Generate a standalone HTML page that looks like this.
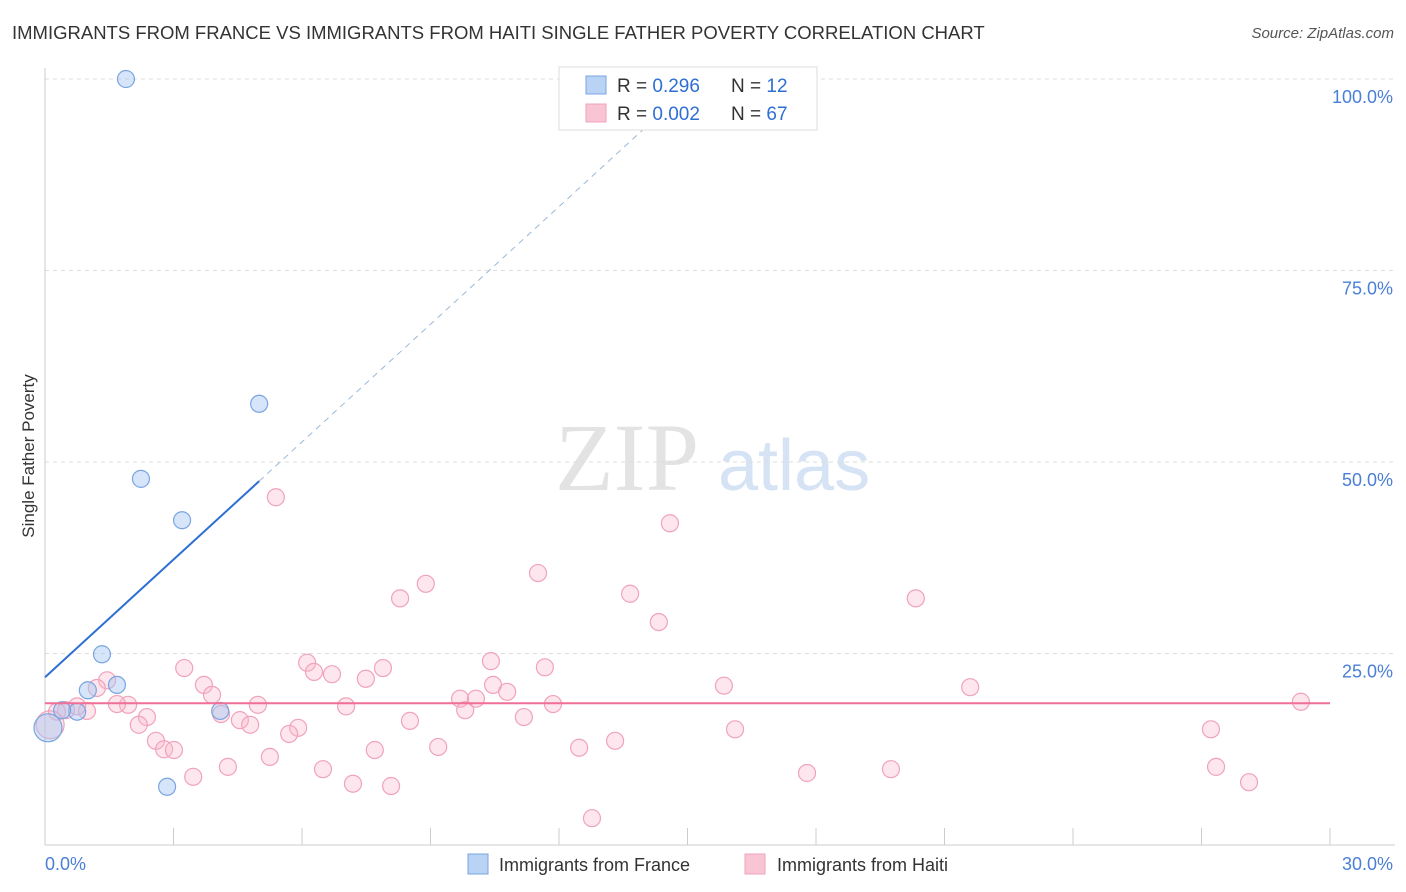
<!DOCTYPE html>
<html><head><meta charset="utf-8"><style>
body{margin:0;background:#fff;font-family:"Liberation Sans",sans-serif;}
#c{position:relative;width:1406px;height:892px;overflow:hidden;}
.t{position:absolute;white-space:nowrap;}
</style></head><body>
<div id="c">
<div class="t" style="left:12px;top:22px;font-size:18.5px;color:#333;">IMMIGRANTS FROM FRANCE VS IMMIGRANTS FROM HAITI SINGLE FATHER POVERTY CORRELATION CHART</div>
<div class="t" style="right:12px;top:25px;font-size:15px;color:#555;font-style:italic;">Source: ZipAtlas.com</div>
<svg id="s" width="1406" height="892" style="position:absolute;left:0;top:0"></svg>
</div>
<script>
const yTicks=[25,50,75,100];
const yTickLabels=["25.0%","50.0%","75.0%","100.0%"];
const xTickLabels=["0.0%","30.0%"];
const franceX=[1.89,5.0,2.24,3.2,1.33,1.68,1.0,0.75,0.4,4.09,2.85,0.07];
const franceY=[100,57.6,47.8,42.4,24.9,20.9,20.2,17.4,17.6,17.5,7.6,15.3];
const haitiX=[5.39,14.59,11.51,8.89,8.29,13.66,20.33,14.33,6.12,3.25,7.89,10.41,11.67,6.70,6.28,7.49,3.71,1.45,1.21,10.46,15.85,21.6,29.32,3.90,9.69,10.06,10.79,11.86,4.97,7.03,1.94,1.68,0.98,0.75,0.49,0.28,9.81,4.11,2.38,4.55,11.18,8.52,2.19,4.79,5.91,5.70,16.11,27.22,2.59,13.31,9.18,2.78,3.01,12.47,7.70,5.25,4.27,6.49,17.79,19.75,27.34,3.46,7.19,8.08,28.11,12.77,0.12];
const haitiY=[45.4,42.0,35.5,34.1,32.2,32.8,32.2,29.1,23.8,23.1,23.1,24.0,23.2,22.3,22.6,21.7,20.9,21.5,20.5,20.9,20.8,20.6,18.7,19.6,19.1,19.1,20.0,18.4,18.3,18.1,18.3,18.4,17.5,18.1,17.6,17.4,17.6,17.1,16.7,16.3,16.7,16.2,15.7,15.7,15.3,14.5,15.1,15.1,13.6,13.6,12.8,12.5,12.4,12.7,12.4,11.5,10.2,9.9,9.4,9.9,10.2,8.9,8.0,7.7,8.2,3.5,15.7];
const franceLine=[21.9,5.12]; // intercept, slope
const haitiLine=18.5;
const NS="http://www.w3.org/2000/svg",s=document.getElementById('s');
const X0=45,X1=1330,Y0=845,Y100=79;
const sx=v=>X0+(X1-X0)*v/30, sy=v=>Y0-(Y0-Y100)*v/100;
function mk(t,a,name){const e=document.createElementNS(NS,t);for(const k in a)e.setAttribute(k,a[k]);


s.appendChild(e);return e;}
let w=mk('text',{x:555,y:490,'font-size':96,'font-family':'Liberation Serif',fill:'#e3e3e3'},'watermark-zip');w.textContent='ZIP';
w=mk('text',{x:718,y:490,'font-size':72,'font-family':'Liberation Sans',fill:'#d6e3f5'},'watermark-atlas');w.textContent='atlas';
yTicks.forEach((v,i)=>{mk('line',{x1:X0,x2:1395,y1:sy(v),y2:sy(v),stroke:'#ddd','stroke-dasharray':'4,4'},'gridline');
const t=mk('text',{x:1393,y:sy(v)+24,'text-anchor':'end','font-size':18,fill:'#4a7fd6'},'y-tick-label');t.textContent=yTickLabels[i];});
mk('line',{x1:X0,x2:X0,y1:68,y2:Y0,stroke:'#ccc'},'y-axis');
mk('line',{x1:X0,x2:1395,y1:Y0,y2:Y0,stroke:'#ccc'},'x-axis');
for(let i=1;i<=10;i++)mk('line',{x1:sx(i*3),x2:sx(i*3),y1:828,y2:Y0,stroke:'#ccc'},'x-tick');
let t=mk('text',{x:45,y:870,'font-size':18,fill:'#4a7fd6'},'x-tick-label');t.textContent=xTickLabels[0];
t=mk('text',{x:1393,y:870,'text-anchor':'end','font-size':18,fill:'#4a7fd6'},'x-tick-label');t.textContent=xTickLabels[1];
t=mk('text',{x:34,y:456,'font-size':17,fill:'#333','text-anchor':'middle',transform:'rotate(-90 34 456)'},'y-axis-title');t.textContent='Single Father Poverty';
haitiX.forEach((x,i)=>mk('circle',{cx:sx(x),cy:sy(haitiY[i]),r:i==haitiX.length-1?14:8.5,fill:'rgba(248,182,202,0.35)',stroke:'#f0a3bb','stroke-width':1.2},'haiti-point'));
franceX.forEach((x,i)=>mk('circle',{cx:sx(x),cy:sy(franceY[i]),r:i==franceX.length-1?14:8.5,fill:'rgba(165,198,242,0.45)',stroke:'#7aa5e0','stroke-width':1.2},'france-point'));
mk('line',{x1:sx(0),x2:sx(30),y1:sy(haitiLine),y2:sy(haitiLine),stroke:'#ef6f96','stroke-width':2},'haiti-trend-line');
const fy=x=>franceLine[0]+franceLine[1]*x;
mk('line',{x1:sx(0),x2:sx(5),y1:sy(fy(0)),y2:sy(fy(5)),stroke:'#2e6fd4','stroke-width':2},'france-trend-line');
const xe=(100-franceLine[0])/franceLine[1];
mk('line',{x1:sx(5),x2:sx(xe),y1:sy(fy(5)),y2:sy(100),stroke:'#9bb8d8','stroke-dasharray':'6,5'},'france-trend-extension');
mk('rect',{x:559,y:67,width:258,height:63,fill:'#fff',stroke:'#ddd'},'stats-legend');
mk('rect',{x:586,y:76,width:20,height:18,fill:'#b9d3f5',stroke:'#7aa5e0'},'france-swatch');
mk('rect',{x:586,y:104,width:20,height:18,fill:'#f9c5d5',stroke:'#f0a3bb'},'haiti-swatch');
[[92,'0.296','12'],[120,'0.002','67']].forEach(r=>{
t=mk('text',{x:617,y:r[0],'font-size':19,fill:'#333'},'legend-stat');t.innerHTML='R = <tspan fill="#2e6fd4">'+r[1]+'</tspan>';
t=mk('text',{x:731,y:r[0],'font-size':19,fill:'#333'},'legend-stat');t.innerHTML='N = <tspan fill="#2e6fd4">'+r[2]+'</tspan>';});
mk('rect',{x:468,y:854,width:20,height:20,fill:'#b9d3f5',stroke:'#7aa5e0'},'legend-france-swatch');
t=mk('text',{x:499,y:871,'font-size':18,fill:'#333'},'legend-france');t.textContent='Immigrants from France';
mk('rect',{x:745,y:854,width:20,height:20,fill:'#f9c5d5',stroke:'#f0a3bb'},'legend-haiti-swatch');
t=mk('text',{x:777,y:871,'font-size':18,fill:'#333'},'legend-haiti');t.textContent='Immigrants from Haiti';
</script>
</body></html>
